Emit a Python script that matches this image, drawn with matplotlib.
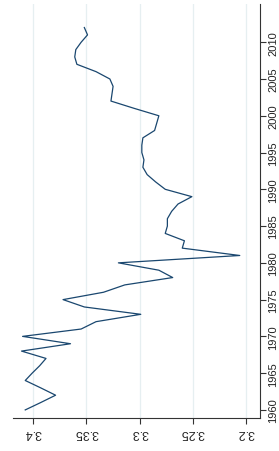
import numpy as np
import matplotlib.pyplot as plt

years = list(range(1960, 2013))
values = [
    3.4075, 3.393, 3.379, 3.393, 3.4075, 3.401, 3.394, 3.388, 3.411, 3.365,  # 1960-69
    3.410, 3.355, 3.341, 3.299, 3.352, 3.372, 3.334, 3.314, 3.269, 3.282,    # 1970-79
    3.320, 3.206, 3.260, 3.258, 3.276, 3.274, 3.274, 3.270, 3.264, 3.251,    # 1980-89
    3.276, 3.285, 3.293, 3.297, 3.296, 3.298, 3.298, 3.297, 3.286, 3.284,    # 1990-99
    3.282, 3.305, 3.327, 3.326, 3.325, 3.328, 3.341, 3.359, 3.361, 3.360,    # 2000-09
    3.355, 3.349, 3.352,                                                    # 2010-12
]
value_ticks = [3.4, 3.35, 3.3, 3.25, 3.2]
value_labels = ["3.4", "3.35", "3.3", "3.25", "3.2"]
year_ticks = list(range(1960, 2011, 5))

plt.rcParams['font.family'] = ['Liberation Sans', 'DejaVu Sans']

fig = plt.figure(figsize=(2.79, 4.52), dpi=100)
ax = fig.add_axes([13 / 279, 33 / 452, 247 / 279, 414 / 452])

ax.plot(values, years, color='#1a476f', lw=0.9)

ax.set_xlim(3.419, 3.187)
ax.set_ylim(1958.9, 2015.2)

ax.set_xticks(value_ticks)
ax.set_xticklabels(value_labels, rotation=180, fontsize=9)
ax.set_yticks(year_ticks)
ax.yaxis.tick_right()
ax.set_yticklabels([str(y) for y in year_ticks], rotation=90, fontsize=8, va='center')

ax.grid(axis='x', color='#e6eff1', lw=0.9)
ax.set_axisbelow(True)

for side in ['top', 'left']:
    ax.spines[side].set_visible(False)
for side in ['bottom', 'right']:
    ax.spines[side].set_color('#333333')
    ax.spines[side].set_linewidth(0.8)
ax.tick_params(length=4, width=0.8, color='#333333', pad=2, labelcolor='#222222')

fig.savefig('out.png', dpi=100)
